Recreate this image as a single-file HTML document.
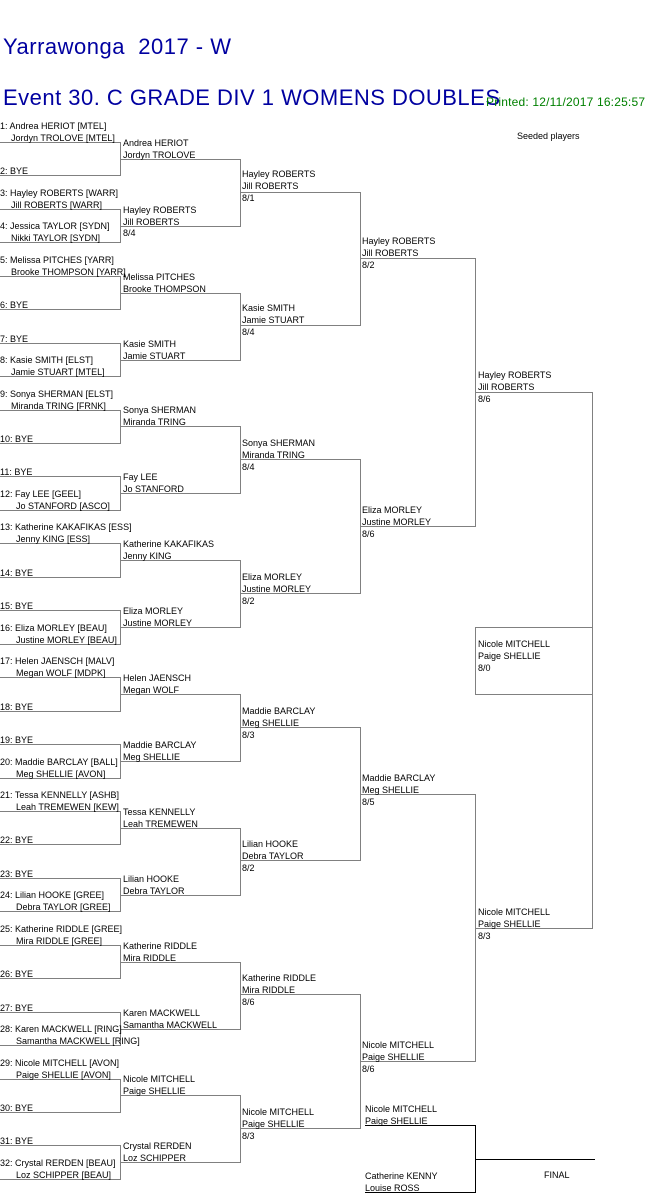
<!DOCTYPE html>
<html><head><meta charset="utf-8"><style>
html,body{margin:0;padding:0;background:#fff;}
svg{display:block;}
text{font-family:"Liberation Sans",Arial,sans-serif;font-size:9px;fill:#000;}
.t{fill:#0000a0;font-size:22px;white-space:pre;}
</style></head><body>
<svg width="661" height="1196" viewBox="0 0 661 1196" xmlns="http://www.w3.org/2000/svg">
<text class="t" x="3" y="54" textLength="228" xml:space="preserve">Yarrawonga  2017 - W</text>
<text class="t" x="3" y="105" textLength="497">Event 30. C GRADE DIV 1 WOMENS DOUBLES</text>
<text x="486" y="106" style="fill:#008000;font-size:12px" textLength="159">Printed: 12/11/2017 16:25:57</text>
<text x="517" y="139">Seeded players</text>

<g stroke="#808080" stroke-width="1" fill="none" shape-rendering="crispEdges">
<path d="M0 142.5H120.5V175.5H0 M0 209.5H120.5V242.5H0 M0 276.5H120.5V309.5H0 M0 343.5H120.5V376.5H0 M0 410.5H120.5V443.5H0 M0 476.5H120.5V510.5H0 M0 543.5H120.5V577.5H0 M0 610.5H120.5V644.5H0 M0 677.5H120.5V711.5H0 M0 744.5H120.5V778.5H0 M0 811.5H120.5V844.5H0 M0 878.5H120.5V911.5H0 M0 945.5H120.5V978.5H0 M0 1012.5H120.5V1045.5H0 M0 1079.5H120.5V1112.5H0 M0 1145.5H120.5V1179.5H0"/>
<path d="M120 159.5H240.5V226.5H120 M120 293.5H240.5V360.5H120 M120 426.5H240.5V493.5H120 M120 560.5H240.5V627.5H120 M120 694.5H240.5V761.5H120 M120 828.5H240.5V895.5H120 M120 962.5H240.5V1029.5H120 M120 1095.5H240.5V1162.5H120"/>
<path d="M240 192.5H360.5V325.5H240 M240 459.5H360.5V593.5H240 M240 727.5H360.5V860.5H240 M240 994.5H360.5V1128.5H240"/>
<path d="M360 258.5H475.5V526.5H360 M360 794.5H475.5V1061.5H360"/>
<path d="M475 392.5H592.5V928.5H475"/>
<path d="M475.5 627.5H592 M475.5 627V694.5H592"/>
</g>
<g stroke="#000" stroke-width="1" fill="none" shape-rendering="crispEdges">
<path d="M365 1125.5H475.5V1192.5H365 M475 1159.5H595"/>
</g>

<g>
<text x="0" y="129">1: Andrea HERIOT [MTEL]</text><text x="11" y="141">Jordyn TROLOVE [MTEL]</text>
<text x="0" y="174">2: BYE</text>
<text x="0" y="196">3: Hayley ROBERTS [WARR]</text><text x="11" y="208">Jill ROBERTS [WARR]</text>
<text x="0" y="229">4: Jessica TAYLOR [SYDN]</text><text x="11" y="241">Nikki TAYLOR [SYDN]</text>
<text x="0" y="263">5: Melissa PITCHES [YARR]</text><text x="11" y="275">Brooke THOMPSON [YARR]</text>
<text x="0" y="308">6: BYE</text>
<text x="0" y="342">7: BYE</text>
<text x="0" y="363">8: Kasie SMITH [ELST]</text><text x="11" y="375">Jamie STUART [MTEL]</text>
<text x="0" y="397">9: Sonya SHERMAN [ELST]</text><text x="11" y="409">Miranda TRING [FRNK]</text>
<text x="0" y="442">10: BYE</text>
<text x="0" y="475">11: BYE</text>
<text x="0" y="497">12: Fay LEE [GEEL]</text><text x="16" y="509">Jo STANFORD [ASCO]</text>
<text x="0" y="530">13: Katherine KAKAFIKAS [ESS]</text><text x="16" y="542">Jenny KING [ESS]</text>
<text x="0" y="576">14: BYE</text>
<text x="0" y="609">15: BYE</text>
<text x="0" y="631">16: Eliza MORLEY [BEAU]</text><text x="16" y="643">Justine MORLEY [BEAU]</text>
<text x="0" y="664">17: Helen JAENSCH [MALV]</text><text x="16" y="676">Megan WOLF [MDPK]</text>
<text x="0" y="710">18: BYE</text>
<text x="0" y="743">19: BYE</text>
<text x="0" y="765">20: Maddie BARCLAY [BALL]</text><text x="16" y="777">Meg SHELLIE [AVON]</text>
<text x="0" y="798">21: Tessa KENNELLY [ASHB]</text><text x="16" y="810">Leah TREMEWEN [KEW]</text>
<text x="0" y="843">22: BYE</text>
<text x="0" y="877">23: BYE</text>
<text x="0" y="898">24: Lilian HOOKE [GREE]</text><text x="16" y="910">Debra TAYLOR [GREE]</text>
<text x="0" y="932">25: Katherine RIDDLE [GREE]</text><text x="16" y="944">Mira RIDDLE [GREE]</text>
<text x="0" y="977">26: BYE</text>
<text x="0" y="1011">27: BYE</text>
<text x="0" y="1032">28: Karen MACKWELL [RING]</text><text x="16" y="1044">Samantha MACKWELL [RING]</text>
<text x="0" y="1066">29: Nicole MITCHELL [AVON]</text><text x="16" y="1078">Paige SHELLIE [AVON]</text>
<text x="0" y="1111">30: BYE</text>
<text x="0" y="1144">31: BYE</text>
<text x="0" y="1166">32: Crystal RERDEN [BEAU]</text><text x="16" y="1178">Loz SCHIPPER [BEAU]</text>
</g>

<g>
<text x="123" y="146">Andrea HERIOT</text><text x="123" y="158">Jordyn TROLOVE</text>
<text x="123" y="213">Hayley ROBERTS</text><text x="123" y="225">Jill ROBERTS</text><text x="123" y="236">8/4</text>
<text x="123" y="280">Melissa PITCHES</text><text x="123" y="292">Brooke THOMPSON</text>
<text x="123" y="347">Kasie SMITH</text><text x="123" y="359">Jamie STUART</text>
<text x="123" y="413">Sonya SHERMAN</text><text x="123" y="425">Miranda TRING</text>
<text x="123" y="480">Fay LEE</text><text x="123" y="492">Jo STANFORD</text>
<text x="123" y="547">Katherine KAKAFIKAS</text><text x="123" y="559">Jenny KING</text>
<text x="123" y="614">Eliza MORLEY</text><text x="123" y="626">Justine MORLEY</text>
<text x="123" y="681">Helen JAENSCH</text><text x="123" y="693">Megan WOLF</text>
<text x="123" y="748">Maddie BARCLAY</text><text x="123" y="760">Meg SHELLIE</text>
<text x="123" y="815">Tessa KENNELLY</text><text x="123" y="827">Leah TREMEWEN</text>
<text x="123" y="882">Lilian HOOKE</text><text x="123" y="894">Debra TAYLOR</text>
<text x="123" y="949">Katherine RIDDLE</text><text x="123" y="961">Mira RIDDLE</text>
<text x="123" y="1016">Karen MACKWELL</text><text x="123" y="1028">Samantha MACKWELL</text>
<text x="123" y="1082">Nicole MITCHELL</text><text x="123" y="1094">Paige SHELLIE</text>
<text x="123" y="1149">Crystal RERDEN</text><text x="123" y="1161">Loz SCHIPPER</text>
</g>

<g>
<text x="242" y="177">Hayley ROBERTS</text><text x="242" y="189">Jill ROBERTS</text><text x="242" y="201">8/1</text>
<text x="242" y="311">Kasie SMITH</text><text x="242" y="323">Jamie STUART</text><text x="242" y="335">8/4</text>
<text x="242" y="446">Sonya SHERMAN</text><text x="242" y="458">Miranda TRING</text><text x="242" y="470">8/4</text>
<text x="242" y="580">Eliza MORLEY</text><text x="242" y="592">Justine MORLEY</text><text x="242" y="604">8/2</text>
<text x="242" y="714">Maddie BARCLAY</text><text x="242" y="726">Meg SHELLIE</text><text x="242" y="738">8/3</text>
<text x="242" y="847">Lilian HOOKE</text><text x="242" y="859">Debra TAYLOR</text><text x="242" y="871">8/2</text>
<text x="242" y="981">Katherine RIDDLE</text><text x="242" y="993">Mira RIDDLE</text><text x="242" y="1005">8/6</text>
<text x="242" y="1115">Nicole MITCHELL</text><text x="242" y="1127">Paige SHELLIE</text><text x="242" y="1139">8/3</text>
</g>

<g>
<text x="362" y="244">Hayley ROBERTS</text><text x="362" y="256">Jill ROBERTS</text><text x="362" y="268">8/2</text>
<text x="362" y="513">Eliza MORLEY</text><text x="362" y="525">Justine MORLEY</text><text x="362" y="537">8/6</text>
<text x="362" y="781">Maddie BARCLAY</text><text x="362" y="793">Meg SHELLIE</text><text x="362" y="805">8/5</text>
<text x="362" y="1048">Nicole MITCHELL</text><text x="362" y="1060">Paige SHELLIE</text><text x="362" y="1072">8/6</text>
</g>

<g>
<text x="478" y="378">Hayley ROBERTS</text><text x="478" y="390">Jill ROBERTS</text><text x="478" y="402">8/6</text>
<text x="478" y="647">Nicole MITCHELL</text><text x="478" y="659">Paige SHELLIE</text><text x="478" y="671">8/0</text>
<text x="478" y="915">Nicole MITCHELL</text><text x="478" y="927">Paige SHELLIE</text><text x="478" y="939">8/3</text>
</g>

<g>
<text x="365" y="1112">Nicole MITCHELL</text><text x="365" y="1124">Paige SHELLIE</text>
<text x="365" y="1179">Catherine KENNY</text><text x="365" y="1191">Louise ROSS</text>
<text x="544" y="1178">FINAL</text>
</g>
</svg>
</body></html>
